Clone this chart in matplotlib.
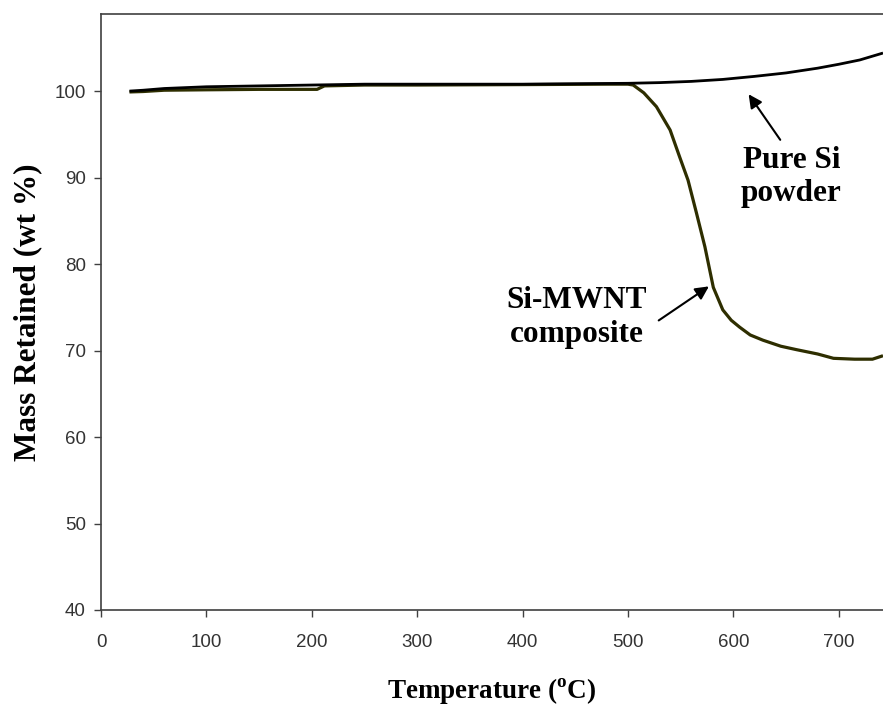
import matplotlib
matplotlib.use("Agg")
import matplotlib.pyplot as plt

# === DATA ===
si_temp = [27, 40, 60, 100, 150, 200, 250, 300, 350, 400, 450, 500, 530, 560,
           590, 620, 650, 680, 700, 720, 742]
si_mass = [100.0, 100.1, 100.3, 100.5, 100.6, 100.7, 100.8, 100.8, 100.8, 100.8,
           100.85, 100.9, 100.98, 101.12, 101.35, 101.7, 102.1, 102.65, 103.1, 103.6, 104.4]

comp_temp = [27, 40, 60, 100, 150, 205, 212, 250, 300, 400, 480, 500, 505, 515,
             527, 540, 549, 557, 565, 573, 581, 590, 598, 606, 616, 628, 645, 660,
             680, 695, 715, 732, 742]
comp_mass = [99.9, 99.95, 100.1, 100.15, 100.2, 100.2, 100.6, 100.7, 100.7, 100.75,
             100.8, 100.8, 100.7, 99.8, 98.2, 95.5, 92.4, 89.7, 85.9, 82.0, 77.3,
             74.7, 73.5, 72.7, 71.8, 71.2, 70.5, 70.1, 69.6, 69.1, 69.0, 69.0, 69.4]

x_ticks = [0, 100, 200, 300, 400, 500, 600, 700]
y_ticks = [40, 50, 60, 70, 80, 90, 100]

SERIF = "Liberation Serif"
SANS = "Liberation Sans"

fig = plt.figure(figsize=(8.83, 7.06), dpi=100)
ax = fig.add_axes([0.1144, 0.136, 0.8856, 0.844])

ax.plot(comp_temp, comp_mass, color="#2e2e00", linewidth=2.3, solid_capstyle="butt")
ax.plot(si_temp, si_mass, color="black", linewidth=2.0, solid_capstyle="butt")

ax.set_xlim(0, 742)
ax.set_ylim(40, 108.9)
ax.set_xticks(x_ticks)
ax.set_yticks(y_ticks)
ax.tick_params(direction="out", length=5, width=1, color="#404040",
               labelsize=13.5, labelcolor="#333333", pad=6)
for lab in ax.get_xticklabels() + ax.get_yticklabels():
    lab.set_fontfamily(SANS)
ax.tick_params(axis="x", pad=12)

for side in ["left", "bottom", "top"]:
    ax.spines[side].set_color("#404040")
    ax.spines[side].set_linewidth(1.2)
ax.spines["right"].set_visible(False)

ax.set_xlabel(r"Temperature ($^{\mathregular{o}}$C)", fontfamily=SERIF, fontsize=19.5,
              fontweight="bold", labelpad=18)
ax.set_ylabel("Mass Retained (wt %)", fontfamily=SERIF, fontsize=22.5,
              fontweight="bold", labelpad=9)

# Annotations
ax.annotate("", xy=(613, 99.9), xytext=(646, 94.1),
            arrowprops=dict(arrowstyle="-|>", color="black", lw=1.5, mutation_scale=20))
ax.text(655, 90.1, "Pure Si\npowder", ha="center", va="center", fontfamily=SERIF,
        fontsize=22.5, fontweight="bold", linespacing=1.2)

ax.annotate("", xy=(579, 77.6), xytext=(527, 73.3),
            arrowprops=dict(arrowstyle="-|>", color="black", lw=1.5, mutation_scale=20))
ax.text(451, 73.8, "Si-MWNT\ncomposite", ha="center", va="center", fontfamily=SERIF,
        fontsize=22.5, fontweight="bold", linespacing=1.2)

plt.savefig("out.png", dpi=100)
plt.close()
